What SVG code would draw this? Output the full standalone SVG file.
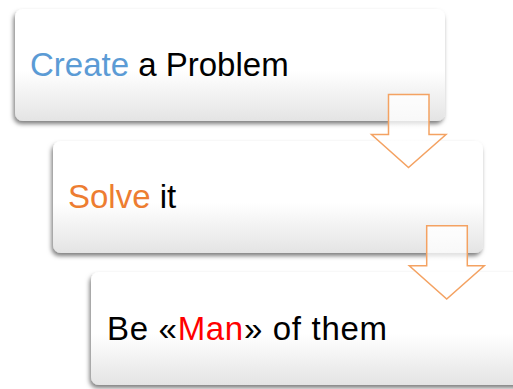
<svg xmlns="http://www.w3.org/2000/svg" width="513" height="389" viewBox="0 0 513 389">
<defs>
<linearGradient id="boxg" x1="0" y1="0" x2="0" y2="1">
<stop offset="0" stop-color="#ffffff"/>
<stop offset="0.55" stop-color="#ffffff"/>
<stop offset="1" stop-color="#e4e4e4"/>
</linearGradient>
<linearGradient id="arrg" x1="0" y1="0" x2="0" y2="1">
<stop offset="0" stop-color="#ffffff" stop-opacity="0.85"/>
<stop offset="1" stop-color="#ffffff" stop-opacity="0.6"/>
</linearGradient>
<filter id="sh" x="-10%" y="-10%" width="120%" height="130%">
<feDropShadow dx="-1.5" dy="3" stdDeviation="2" flood-color="#000" flood-opacity="0.5"/>
</filter>
</defs>
<style>
.box{fill:url(#boxg);filter:url(#sh);}
.t{font-family:"Liberation Sans",Arial,sans-serif;font-size:33px;fill:#000;}
.arrow{fill:url(#arrg);stroke:#F4A262;stroke-width:1.5;stroke-linejoin:miter;}
</style>
<rect width="513" height="389" fill="#ffffff"/>
<g id="node1">
<rect class="box" x="15" y="9" width="430" height="112" rx="8"/>
<text class="t" x="30" y="76"><tspan fill="#5B9BD5">Create</tspan> a Problem</text>
</g>
<g id="node2">
<rect class="box" x="53" y="141" width="430" height="112" rx="8"/>
<text class="t" x="68" y="208"><tspan fill="#ED7D31">Solve</tspan> it</text>
</g>
<g id="node3">
<rect class="box" x="91" y="272" width="440" height="113" rx="8"/>
<text class="t" x="107" y="340" textLength="280" lengthAdjust="spacing">Be «<tspan fill="#FF0000">Man</tspan>» of them</text>
</g>
<g id="connectors">
<path class="arrow" d="M388.5,94.5 H429 V134.5 H446 L408.5,167.5 L371.5,134.5 H388.5 Z"/>
<path class="arrow" d="M426.7,225.7 H467.3 V265.7 H484.3 L446.7,299 L409.3,265.7 H426.7 Z"/>
</g>
</svg>
